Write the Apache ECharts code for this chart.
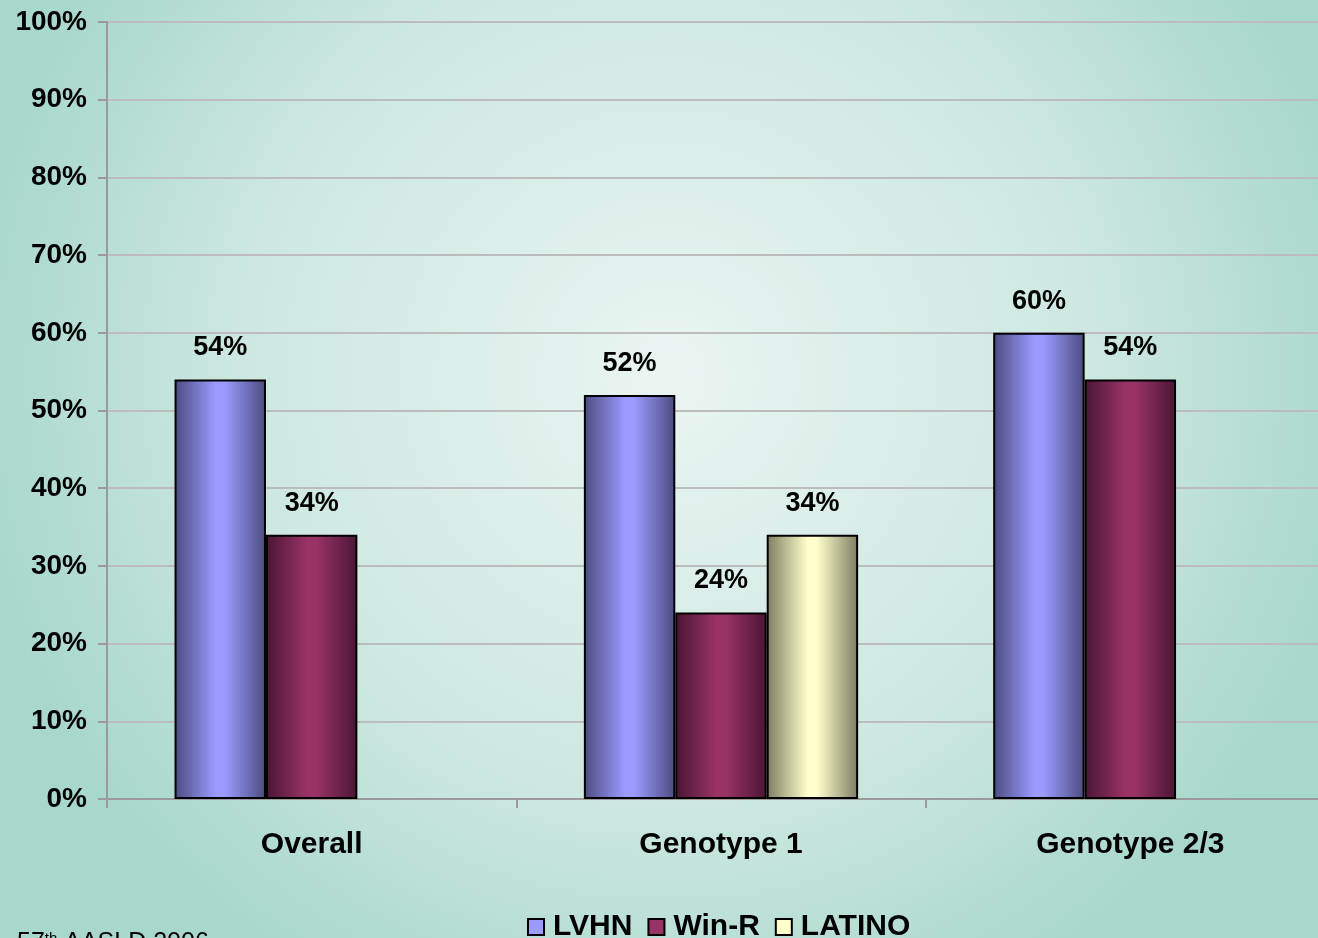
<!DOCTYPE html>
<html>
<head>
<meta charset="utf-8">
<script src="https://cdn.jsdelivr.net/npm/echarts@6/dist/echarts.min.js"></script>
<style>
html,body{margin:0;padding:0;width:1318px;height:938px;overflow:hidden;}
#chart{width:1335px;height:938px;}
</style>
</head>
<body>
<div id="chart"></div>
<script>
const categories = ['Overall', 'Genotype 1', 'Genotype 2/3'];
const seriesNames = ['LVHN', 'Win-R', 'LATINO'];
const lvhn = [54, 52, 60];
const winR = [34, 24, 54];
const latino = [null, 34, null];
const yTicks = [0, 10, 20, 30, 40, 50, 60, 70, 80, 90, 100];

const palette = [
  {dark: '#4b4b80', light: '#9b9bff'},
  {dark: '#4a1634', light: '#993366'},
  {dark: '#7d7d62', light: '#ffffcc'}
];
function grad(p) {
  return new echarts.graphic.LinearGradient(0, 0, 1, 0, [
    {offset: 0, color: p.dark},
    {offset: 0.45, color: p.light},
    {offset: 0.55, color: p.light},
    {offset: 1, color: p.dark}
  ]);
}
const font = 'Liberation Sans, Arial, sans-serif';
const data = [lvhn, winR, latino];

const chart = echarts.init(document.getElementById('chart'));
chart.setOption({
  animation: false,
  backgroundColor: new echarts.graphic.RadialGradient(0.5, 0.4, 0.75, [
    {offset: 0, color: '#eaf5f2'},
    {offset: 0.6, color: '#cde8e1'},
    {offset: 1, color: '#a8d7cb'}
  ]),
  textStyle: {fontFamily: font},
  grid: {left: 107, top: 22, bottom: 139, right: 0, containLabel: false},
  legend: {
    top: 907,
    left: 522,
    itemWidth: 16,
    itemHeight: 16,
    itemGap: 15,
    icon: 'rect',
    data: seriesNames.map((n, i) => ({name: n, itemStyle: {color: palette[i].light, borderColor: '#000', borderWidth: 2}})),
    textStyle: {fontSize: 30, fontWeight: 'bold', color: '#000', fontFamily: font, padding: [0, 0, 0, 4]}
  },
  xAxis: {
    type: 'category',
    data: categories,
    axisLine: {lineStyle: {color: '#9a9a9a', width: 2}},
    axisTick: {show: true, length: 9, lineStyle: {color: '#9a9a9a', width: 2}},
    axisLabel: {fontSize: 30, fontWeight: 'bold', color: '#000', margin: 31, fontFamily: font}
  },
  yAxis: {
    type: 'value',
    min: 0,
    max: 100,
    interval: 10,
    axisLine: {show: true, lineStyle: {color: '#9a9a9a', width: 2}},
    axisTick: {show: true, length: 9, lineStyle: {color: '#9a9a9a', width: 2}},
    splitLine: {lineStyle: {color: '#bcbcbc', width: 2}},
    axisLabel: {
      fontSize: 28, fontWeight: 'bold', color: '#000', margin: 20, fontFamily: font,
      formatter: v => (yTicks.indexOf(v) >= 0 ? v + '%' : '')
    }
  },
  series: seriesNames.map((n, i) => ({
    name: n,
    type: 'bar',
    data: data[i],
    barGap: '0%',
    barCategoryGap: '33%',
    itemStyle: {color: grad(palette[i]), borderColor: '#000', borderWidth: 2},
    label: {
      show: true,
      position: 'top',
      distance: 18,
      formatter: p => p.value + '%',
      fontSize: 27,
      fontWeight: 'bold',
      color: '#000',
      fontFamily: font
    }
  })),
  graphic: [{
    type: 'text',
    left: 17,
    top: 931,
    style: {
      text: '57{sup|th} AASLD 2006',
      fontSize: 25,
      fill: '#000',
      fontFamily: font,
      rich: {sup: {fontSize: 15, verticalAlign: 'top', padding: [0, 0, 10, 0]}}
    }
  }]
});
</script>
</body>
</html>
